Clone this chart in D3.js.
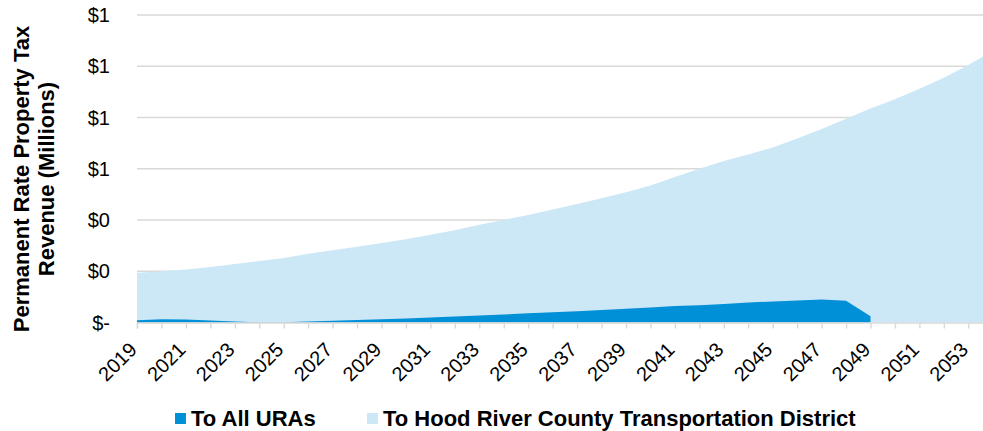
<!DOCTYPE html>
<html><head><meta charset="utf-8">
<script src="https://cdn.jsdelivr.net/npm/d3@7/dist/d3.min.js"></script>
<style>
body{margin:0;background:#fff;}
svg{display:block;font-family:"Liberation Sans",Arial,sans-serif;}
</style></head>
<body><svg id="c" width="983" height="431"></svg>
<script>
const years = d3.range(2019, 2055);
const yearLabels = ["2019","2021","2023","2025","2027","2029","2031","2033","2035","2037","2039","2041","2043","2045","2047","2049","2051","2053"];
const uraValues = [0.009,0.013,0.012,0.008,0.004,0.001,0.001,0.004,0.007,0.010,0.013,0.016,0.020,0.023,0.027,0.031,0.036,0.040,0.044,0.049,0.054,0.059,0.064,0.067,0.072,0.078,0.082,0.086,0.090,0.085,0.024,null,null,null,null,null];
const districtValues = [0.185,0.187,0.195,0.209,0.224,0.239,0.251,0.264,0.275,0.286,0.297,0.309,0.322,0.337,0.354,0.369,0.384,0.401,0.418,0.436,0.454,0.476,0.504,0.533,0.558,0.578,0.601,0.632,0.665,0.710,0.811,0.871,0.912,0.955,1.005,1.060];
const yTicks = [0,0.2,0.4,0.6,0.8,1.0,1.2];
const seriesNames = ["To All URAs","To Hood River County Transportation District"];
const colors = ["#0090D7","#CCE8F6"];

const svg = d3.select("#c");
const x = d3.scaleLinear().domain([2019, 2054]).range([137, 137 + 35*24.45]);
const y = d3.scaleLinear().domain([0, 1.2]).range([322.5, 15]);

const data = years.map((yr,i)=>({year:yr, ura:uraValues[i], dist:districtValues[i]}));

// gridlines
svg.append("g").selectAll("line").data(yTicks.slice(1)).join("line")
  .attr("x1",137).attr("x2",983).attr("y1",d=>y(d)).attr("y2",d=>y(d))
  .attr("stroke","#D9D9D9").attr("stroke-width",1.4);

// light area (stacked top)
const areaTop = d3.area().x(d=>x(d.year)).y0(y(0)).y1(d=>y((d.ura||0)+d.dist));
svg.append("path").datum(data).attr("d",areaTop).attr("fill",colors[1]);

// dark area
const areaUra = d3.area().defined(d=>d.ura!==null).x(d=>x(d.year)).y0(y(0)).y1(d=>y(d.ura));
svg.append("path").datum(data).attr("d",areaUra).attr("fill",colors[0]);

// x axis
const xAxis = d3.axisBottom(x).tickValues(years).tickSize(6).tickFormat("");
const gx = svg.append("g").attr("transform",`translate(0,${y(0)})`).call(xAxis);
gx.select(".domain").attr("stroke","#D9D9D9").attr("stroke-width",1.4);
gx.selectAll(".tick line").attr("stroke","#D9D9D9").attr("stroke-width",1.4);

svg.append("g").selectAll("text").data(yearLabels).join("text")
  .attr("transform",d=>`translate(${x(+d)+1},351) rotate(-45)`)
  .attr("text-anchor","end").attr("font-size",20).attr("fill","#000").text(d=>d);

// y axis labels
const fmt = v => v===0 ? "$-" : "$" + d3.format(".0f")(v);
svg.append("g").selectAll("text").data(yTicks).join("text")
  .attr("x",110).attr("y",d=>y(d)).attr("dy","0.35em").attr("text-anchor","end")
  .attr("font-size",20).attr("fill","#000").text(fmt);

// y title
const t = svg.append("text").attr("transform","translate(0,179) rotate(-90)")
  .attr("text-anchor","middle").attr("font-size",22).attr("font-weight","bold").attr("fill","#000");
t.append("tspan").attr("x",0).attr("y",29).text("Permanent Rate Property Tax");
t.append("tspan").attr("x",0).attr("y",54).text("Revenue (Millions)");

// legend
const legX = [175, 367];
const lg = svg.append("g").selectAll("g").data(seriesNames).join("g")
  .attr("transform",(d,i)=>`translate(${legX[i]},0)`);
lg.append("rect").attr("x",0).attr("y",413).attr("width",11).attr("height",11).attr("fill",(d,i)=>colors[i]);
lg.append("text").attr("x",16).attr("y",426).attr("font-size",22).attr("font-weight","bold").attr("fill","#000").text(d=>d);
</script></body></html>
